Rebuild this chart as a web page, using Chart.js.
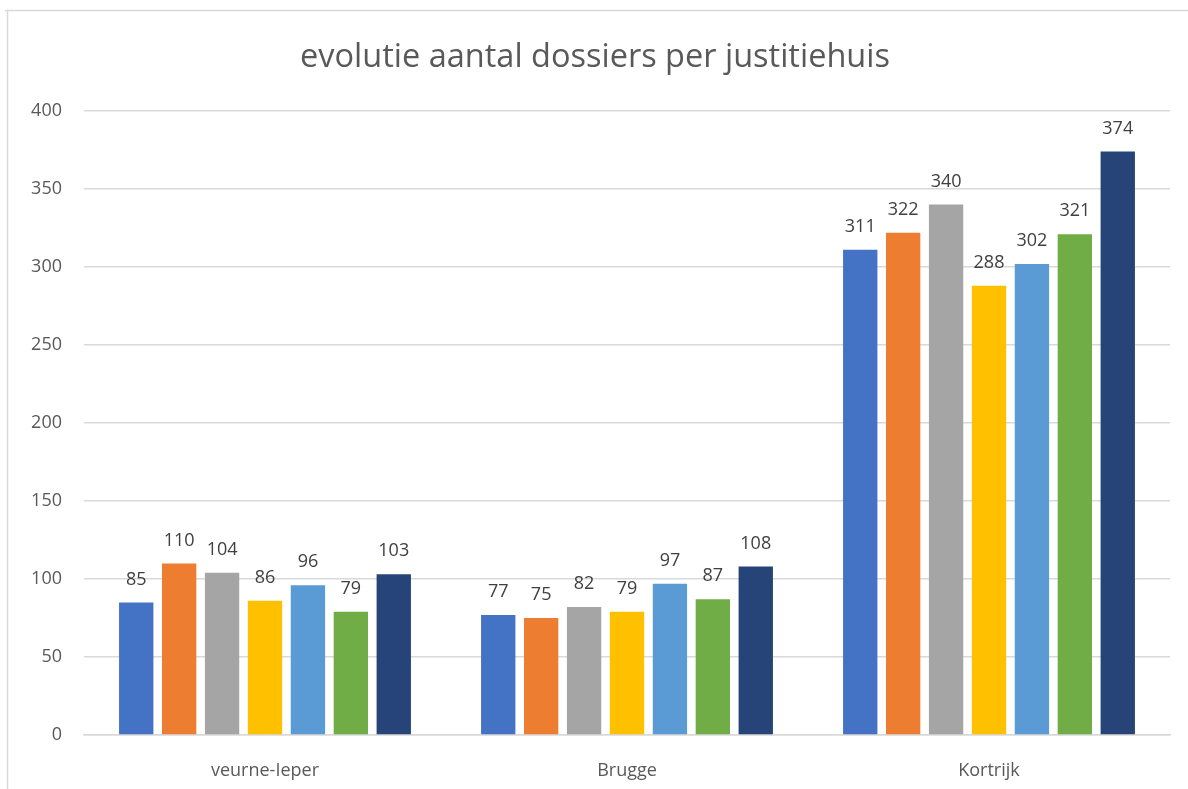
<!DOCTYPE html>
<html>
<head>
<meta charset="utf-8">
<script src="https://cdn.jsdelivr.net/npm/chart.js@4"></script>
<style>
  html, body { margin: 0; padding: 0; background: #fff; }
  #wrap { width: 1188px; height: 789px; }
</style>
</head>
<body>
<div id="wrap"><canvas id="grafico"></canvas></div>
<script>
const categorieen = ['veurne-Ieper', 'Brugge', 'Kortrijk']
const reeksNamen = ['reeks 1', 'reeks 2', 'reeks 3', 'reeks 4', 'reeks 5', 'reeks 6', 'reeks 7']
const kleuren = ['#4472C4', '#ED7D31', '#A5A5A5', '#FFC000', '#5B9BD5', '#70AD47', '#264478']
const reeks1 = [85, 77, 311]
const reeks2 = [110, 75, 322]
const reeks3 = [104, 82, 340]
const reeks4 = [86, 79, 288]
const reeks5 = [96, 97, 302]
const reeks6 = [79, 87, 321]
const reeks7 = [103, 108, 374]
const alleReeksen = [reeks1, reeks2, reeks3, reeks4, reeks5, reeks6, reeks7]

const lettertype = '"Open Sans", sans-serif'

// kader rond de grafiek (zoals in excel)
const kader = {
  id: 'kader',
  beforeDraw(chart) {
    const ctx = chart.ctx
    ctx.save()
    ctx.strokeStyle = '#d9d9d9'
    ctx.lineWidth = 1.5
    ctx.beginPath()
    ctx.moveTo(5, 10.5)
    ctx.lineTo(chart.width, 10.5)
    ctx.moveTo(7.5, 10)
    ctx.lineTo(7.5, chart.height)
    ctx.stroke()
    ctx.restore()
  }
}

// waarden boven de staven
const labels = {
  id: 'labels',
  afterDatasetsDraw(chart) {
    const ctx = chart.ctx
    ctx.save()
    ctx.font = '18px ' + lettertype
    ctx.fillStyle = '#404040'
    ctx.textAlign = 'center'
    ctx.textBaseline = 'middle'
    chart.data.datasets.forEach((ds, i) => {
      chart.getDatasetMeta(i).data.forEach((bar, j) => {
        ctx.fillText(ds.data[j], bar.x, bar.y - 23)
      })
    })
    ctx.restore()
  }
}

new Chart(document.getElementById('grafico'), {
  type: 'bar',
  data: {
    labels: categorieen,
    datasets: alleReeksen.map((d, i) => ({
      label: reeksNamen[i],
      data: d,
      backgroundColor: kleuren[i],
      barPercentage: 0.8,
      categoryPercentage: 0.83
    }))
  },
  plugins: [kader, labels],
  options: {
    responsive: true,
    maintainAspectRatio: false,
    animation: false,
    layout: { padding: { left: 20, right: 18, top: 0, bottom: 0 } },
    plugins: {
      legend: { display: false },
      tooltip: { enabled: false },
      title: {
        display: true,
        text: 'evolutie aantal dossiers per justitiehuis',
        color: '#595959',
        font: { family: lettertype, size: 32.5, weight: 'normal' },
        padding: { top: 38, bottom: 34 }
      }
    },
    scales: {
      x: {
        grid: { display: false },
        border: { color: '#d9d9d9', width: 1.5 },
        ticks: { color: '#595959', font: { family: lettertype, size: 18 }, padding: 17 },
        afterFit(s) { s.height = 54 }
      },
      y: {
        min: 0,
        max: 400,
        ticks: { stepSize: 50, color: '#595959', font: { family: lettertype, size: 18 }, padding: 22 },
        grid: { color: '#d9d9d9', lineWidth: 1.5, drawTicks: false },
        border: { display: false },
        afterFit(s) { s.width = 64 }
      }
    }
  }
})
</script>
</body>
</html>
